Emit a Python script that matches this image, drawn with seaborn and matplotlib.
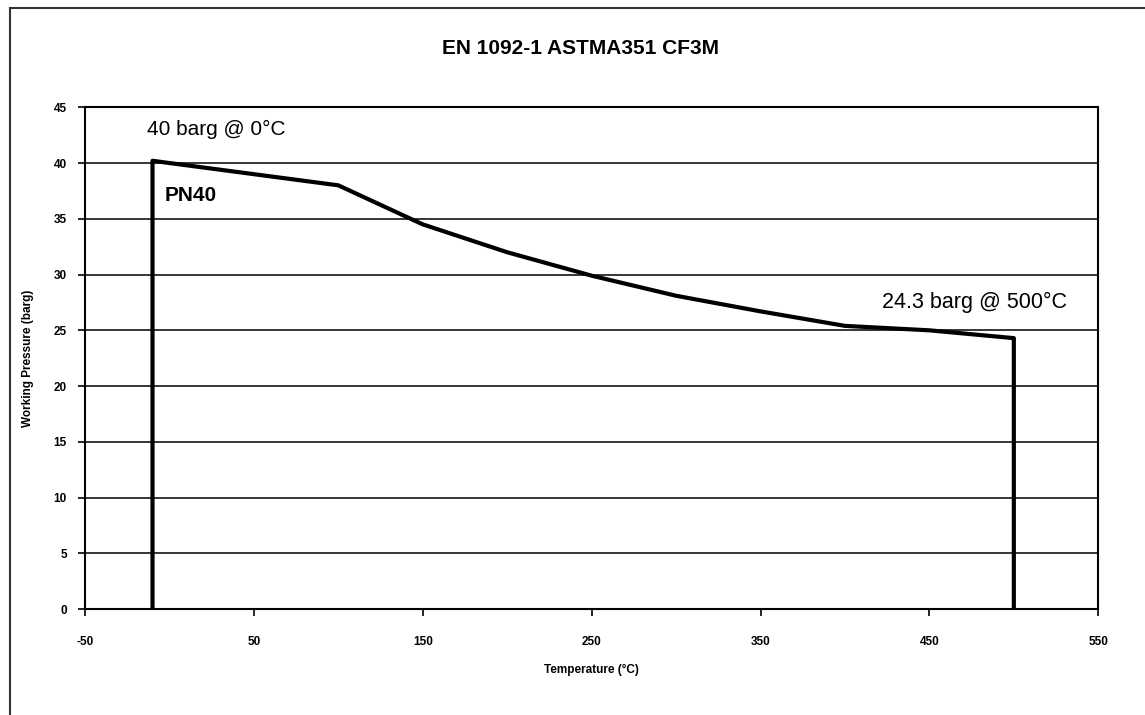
import numpy as np
import pandas as pd
import matplotlib
matplotlib.use("Agg")
import matplotlib.pyplot as plt
from matplotlib.patches import Rectangle
import seaborn as sns

# pressure / temperature rating
temperature = [-10, -10, 0, 50, 100, 150, 200, 250, 300, 350, 400, 450, 500, 500]
pressure = [0, 40.2, 40.0, 39.0, 38.0, 34.5, 32.0, 29.9, 28.1, 26.7, 25.4, 25.0, 24.3, 0]

x_ticks = [-50, 50, 150, 250, 350, 450, 550]
y_ticks = [0, 5, 10, 15, 20, 25, 30, 35, 40, 45]

sns.set_style("white")
plt.rcParams["font.family"] = ["Liberation Sans", "DejaVu Sans"]
plt.rcParams["text.color"] = "black"

df = pd.DataFrame({"Temperature": temperature, "Pressure": pressure})

fig = plt.figure(figsize=(11.45, 7.15), dpi=100)
ax = fig.add_axes([0.0742, 0.148, 0.885, 0.702])

# horizontal gridlines
for yv in y_ticks[1:]:
    ax.axhline(yv, color="black", lw=1.1, zorder=1)

sns.lineplot(data=df, x="Temperature", y="Pressure", sort=False, estimator=None,
             color="black", lw=3, ax=ax, zorder=3)

ax.set_xlim(-50, 550)
ax.set_ylim(0, 45)
ax.set_xticks(x_ticks)
ax.set_yticks(y_ticks)
ax.set_xticklabels([str(v) for v in x_ticks], fontsize=8.5, fontweight="bold")
ax.set_yticklabels([str(v) for v in y_ticks], fontsize=8.5, fontweight="bold")
ax.tick_params(axis="both", direction="out", length=5, width=1.2, color="black",
               labelcolor="black", bottom=True, left=True)
ax.tick_params(axis="x", pad=14)
ax.tick_params(axis="y", pad=8)
for s in ax.spines.values():
    s.set_color("black")
    s.set_linewidth(1.5)

ax.set_xlabel("Temperature (°C)", fontsize=8.5, fontweight="bold", labelpad=12, color="black")
ax.set_ylabel("Working Pressure (barg)", fontsize=8.5, fontweight="bold", labelpad=14, color="black")

ax.text(-13.5, 43.0, "40 barg @ 0°C", fontsize=15, va="center", ha="left")
ax.text(-3, 37.1, "PN40", fontsize=15, fontweight="bold", va="center", ha="left")
ax.text(422, 27.5, "24.3 barg @ 500°C", fontsize=15.5, va="center", ha="left")

fig.text(0.507, 0.932, "EN 1092-1 ASTMA351 CF3M", fontsize=15, fontweight="bold",
         ha="center", va="center")

# outer frame around the chart area
fig.patches.append(Rectangle((0.009, -0.01), 1.02, 0.999, transform=fig.transFigure,
                             fill=False, edgecolor="#333333", lw=1.5))

fig.savefig("out.png", dpi=100)
